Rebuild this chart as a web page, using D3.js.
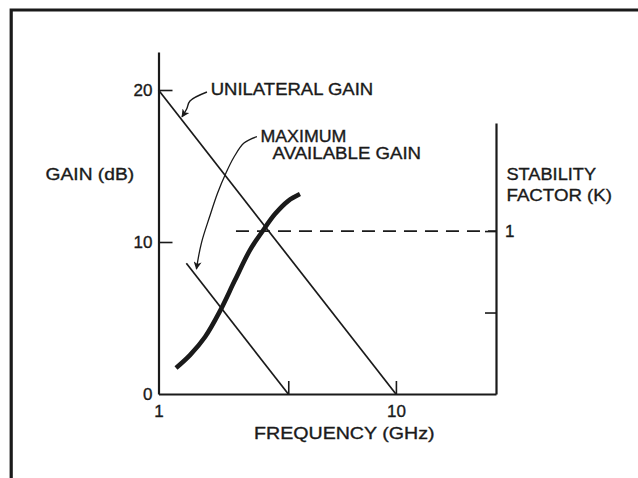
<!DOCTYPE html>
<html>
<head>
<meta charset="utf-8">
<script src="https://cdn.jsdelivr.net/npm/d3@7"></script>
<style>
  html, body { margin: 0; padding: 0; background: #fff; }
  svg { display: block; }
  text { font-family: "Liberation Sans", Arial, sans-serif; fill: #1a1a1a; stroke: #1a1a1a; stroke-width: 0.35px; }
</style>
</head>
<body>
<svg id="chart" width="638" height="478"></svg>
<script>
// ---------------- data ----------------
const gainTicks = [0, 10, 20];
const freqLabelTicks = [1, 10];
const freqMarkTicks = [3.52, 10];
const kTicks = [0.5, 1];
const kTickLabels = ["", "1"];

const unilateralFreq = [1, 10];
const unilateralGain = [20, 0];

const magFreq = [1.31, 3.52];
const magGain = [8.6, 0];

const kFreq  = [1.185, 1.357, 1.570, 1.815, 2.100, 2.428, 2.728, 3.094, 3.511, 3.943];
const kValue = [0.160, 0.239, 0.350, 0.509, 0.699, 0.883, 0.994, 1.104, 1.184, 1.227];

const kRefFreq = [2.12, 26.4];
const kRefValue = [1, 1];

// annotation arrows (data coordinates: GHz, dB)
const uniArrowFreq = [1.6, 1.357, 1.314, 1.256];
const uniArrowGain = [19.87, 19.28, 18.75, 18.24];
const magArrowFreq = [2.598, 2.291, 2.080, 1.924, 1.774, 1.640, 1.516, 1.445];
const magArrowGain = [16.93, 16.51, 15.59, 14.54, 13.22, 11.64, 9.93, 8.22];

// ---------------- chart ----------------
const svg = d3.select("#chart");
const ink = "#1a1a1a";
const FONT = '"Liberation Sans", Arial, sans-serif';

const x = d3.scaleLog().domain([1, 26.4]).range([158.5, 496]);
const y = d3.scaleLinear().domain([0, 22.5]).range([394, 52]);
const yK = d3.scaleLinear().domain([0, 1.663]).range([394, 123]);

// frame
svg.append("path")
  .attr("d", "M11.2,478 V10 H638")
  .attr("fill", "none").attr("stroke", ink).attr("stroke-width", 3.2);

// marker
const defs = svg.append("defs");
defs.append("marker")
  .attr("id", "arr").attr("viewBox", "0 0 10 10")
  .attr("refX", 9).attr("refY", 5)
  .attr("markerWidth", 11).attr("markerHeight", 8)
  .attr("markerUnits", "userSpaceOnUse")
  .attr("orient", "auto")
  .append("path").attr("d", "M0,0 L10,5 L0,10 L2.5,5 Z").attr("fill", ink);

function styleText(g) {
  g.selectAll(".tick text").attr("font-size", 17).attr("fill", ink)
    .style("font-family", FONT).style("stroke", ink).style("stroke-width", "0.35px");
}

// left axis
const gl = svg.append("g").attr("transform", `translate(${x(1)},0)`)
  .call(d3.axisLeft(y).tickValues(gainTicks).tickSizeInner(-14).tickSizeOuter(0).tickPadding(6));
gl.select(".domain").attr("stroke", ink).attr("stroke-width", 2.2);
gl.selectAll(".tick line").attr("stroke", ink).attr("stroke-width", 1.6);
gl.selectAll(".tick").filter(d => d === 0).select("line").remove();
styleText(gl);

// bottom axis (labels)
const gb = svg.append("g").attr("transform", `translate(0,${y(0)})`)
  .call(d3.axisBottom(x).tickValues(freqLabelTicks).tickFormat(d3.format("d"))
    .tickSizeInner(0).tickSizeOuter(0).tickPadding(11));
gb.select(".domain").attr("stroke", ink).attr("stroke-width", 2.2);
styleText(gb);

// bottom axis (upward tick marks)
const gb2 = svg.append("g").attr("transform", `translate(0,${y(0)})`)
  .call(d3.axisBottom(x).tickValues(freqMarkTicks).tickFormat("")
    .tickSizeInner(-13).tickSizeOuter(0));
gb2.select(".domain").remove();
gb2.selectAll(".tick line").attr("stroke", ink).attr("stroke-width", 1.6);

// right axis (stability factor)
const gr = svg.append("g").attr("transform", `translate(${x(26.4)},0)`)
  .call(d3.axisRight(yK).tickValues(kTicks).tickFormat((d, i) => kTickLabels[i])
    .tickSizeInner(-11).tickSizeOuter(0).tickPadding(9));
gr.select(".domain").attr("stroke", ink).attr("stroke-width", 2.2);
gr.selectAll(".tick line").attr("stroke", ink).attr("stroke-width", 1.6);
styleText(gr);

// K = 1 dashed reference
const kRefLine = d3.line().x(d => x(d[0])).y(d => yK(d[1]));
svg.append("path")
  .attr("d", kRefLine(d3.zip(kRefFreq, kRefValue)))
  .attr("fill", "none").attr("stroke", ink).attr("stroke-width", 1.7)
  .attr("stroke-dasharray", "13,8");

// unilateral gain
const gLine = d3.line().x(d => x(d[0])).y(d => y(d[1]));
svg.append("path")
  .attr("d", gLine(d3.zip(unilateralFreq, unilateralGain)))
  .attr("fill", "none").attr("stroke", ink).attr("stroke-width", 1.7);

// maximum available gain
svg.append("path")
  .attr("d", gLine(d3.zip(magFreq, magGain)))
  .attr("fill", "none").attr("stroke", ink).attr("stroke-width", 1.7);

// stability factor curve
const kLine = d3.line().x(d => x(d[0])).y(d => yK(d[1])).curve(d3.curveCatmullRom);
svg.append("path")
  .attr("d", kLine(d3.zip(kFreq, kValue)))
  .attr("fill", "none").attr("stroke", ink).attr("stroke-width", 4.6)
  .attr("stroke-linecap", "butt");

// annotation arrows
const arrowLine = d3.line().x(d => x(d[0])).y(d => y(d[1])).curve(d3.curveCatmullRom);
svg.append("path")
  .attr("d", arrowLine(d3.zip(uniArrowFreq, uniArrowGain)))
  .attr("fill", "none").attr("stroke", ink).attr("stroke-width", 1.4)
  .attr("marker-end", "url(#arr)");
svg.append("path")
  .attr("d", arrowLine(d3.zip(magArrowFreq, magArrowGain)))
  .attr("fill", "none").attr("stroke", ink).attr("stroke-width", 1.3)
  .attr("marker-end", "url(#arr)");

// labels
function label(t, xx, yy, w) {
  svg.append("text").attr("x", xx).attr("y", yy)
    .attr("font-size", 17).attr("fill", ink)
    .attr("textLength", w).attr("lengthAdjust", "spacingAndGlyphs")
    .text(t);
}
label("UNILATERAL GAIN", 210.7, 95, 162.5);
label("MAXIMUM", 260.4, 141.7, 86);
label("AVAILABLE GAIN", 272.6, 159, 148.5);
label("GAIN (dB)", 45.6, 179.5, 88.5);
label("STABILITY", 506.5, 179.5, 89.5);
label("FACTOR (K)", 506.5, 201, 105.5);
label("FREQUENCY (GHz)", 254, 439, 180.5);
</script>
</body>
</html>
